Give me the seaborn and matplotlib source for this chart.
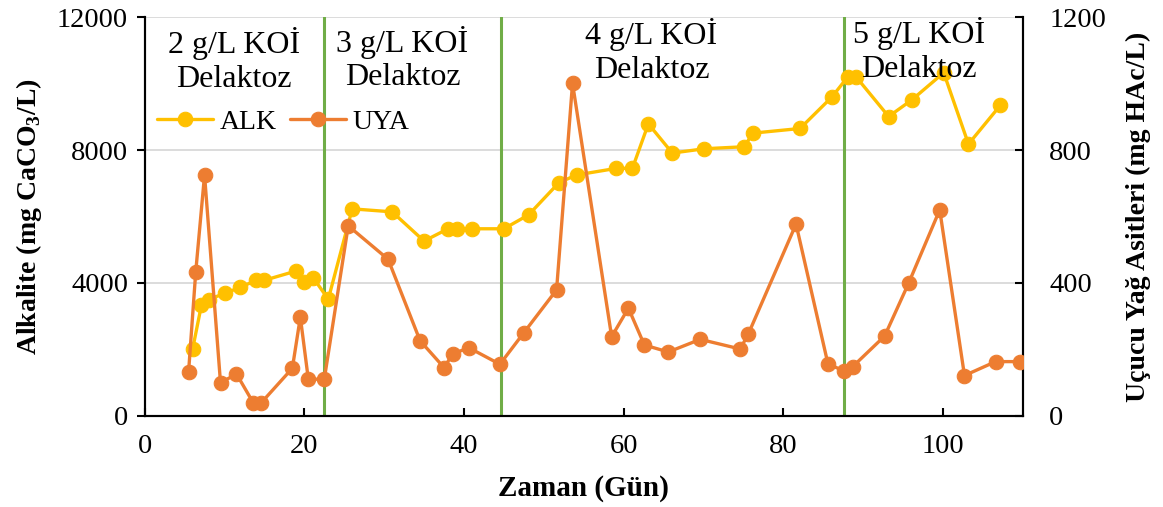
import matplotlib
matplotlib.use("Agg")
import matplotlib.pyplot as plt
import seaborn as sns
import pandas as pd

sns.set_theme(style="white")
plt.rcParams['font.family'] = ['Liberation Serif', 'DejaVu Serif']
plt.rcParams['mathtext.fontset'] = 'custom'
plt.rcParams['mathtext.rm'] = 'Liberation Serif'
plt.rcParams['mathtext.bf'] = 'Liberation Serif:bold'
for k in ['text.color', 'axes.labelcolor', 'xtick.color', 'ytick.color']:
    plt.rcParams[k] = 'black'

# ALK data (day, mg CaCO3/L)
alk_day = [6.0, 7.1, 8.0, 10.1, 12.0, 14.0, 15.0, 19.0, 20.0, 21.1, 23.0, 26.0, 31.0, 35.0,
           38.0, 39.1, 41.0, 45.0, 48.1, 51.9, 54.1, 59.1, 61.1, 63.1, 66.1, 70.1, 75.1, 76.2,
           82.1, 86.1, 88.1, 89.1, 93.2, 96.1, 100.1, 103.2, 107.2]
alk_val = [2000, 3320, 3500, 3690, 3870, 4080, 4080, 4360, 4040, 4160, 3510, 6230, 6140, 5260,
           5630, 5630, 5630, 5630, 6050, 7020, 7250, 7450, 7450, 8790, 7910, 8040, 8100, 8510,
           8650, 9600, 10210, 10210, 9010, 9510, 10330, 8180, 9350]

# UYA data (day, mg HAc/L)
uya_day = [5.5, 6.4, 7.5, 9.5, 11.5, 13.6, 14.6, 18.5, 19.5, 20.5, 22.5, 25.5, 30.5, 34.5,
           37.5, 38.6, 40.6, 44.5, 47.5, 51.6, 53.6, 58.5, 60.6, 62.6, 65.6, 69.6, 74.6, 75.6,
           81.6, 85.6, 87.6, 88.7, 92.7, 95.7, 99.6, 102.7, 106.6, 109.6]
uya_val = [132, 434, 725, 99, 126, 39, 39, 143, 297, 110, 110, 572, 471, 226,
           145, 186, 205, 155, 250, 379, 1001, 238, 324, 213, 192, 230, 201, 245,
           577, 156, 135, 148, 240, 399, 620, 121, 163, 163]

phase_bounds = [22.5, 44.6, 87.6]
phase_labels = ["2 g/L KOİ\nDelaktoz", "3 g/L KOİ\nDelaktoz", "4 g/L KOİ\nDelaktoz", "5 g/L KOİ\nDelaktoz"]
phase_label_x = [11.2, 32.3, 63.5, 97.0]
phase_label_y = [11700, 11750, 11980, 12000]

xticks = [0, 20, 40, 60, 80, 100]
yticks_left = [0, 4000, 8000, 12000]
yticks_right = [0, 400, 800, 1200]

alk_df = pd.DataFrame({"day": alk_day, "val": alk_val})
uya_df = pd.DataFrame({"day": uya_day, "val": uya_val})

ALK_C = "#FFC000"
UYA_C = "#ED7D31"
GREEN = "#70AD47"

fig = plt.figure(figsize=(11.63, 5.07), dpi=100)
ax = fig.add_axes([0.1244, 0.180, 0.755, 0.786])
ax2 = ax.twinx()

sns.lineplot(data=alk_df, x="day", y="val", ax=ax, color=ALK_C, marker="o", markersize=10.5,
             markeredgecolor=ALK_C, linewidth=2.4, label="ALK", legend=False, zorder=3)
sns.lineplot(data=uya_df, x="day", y="val", ax=ax2, color=UYA_C, marker="o", markersize=10.5,
             markeredgecolor=UYA_C, linewidth=2.4, label="UYA", legend=False, zorder=3)

for b in phase_bounds:
    ax.axvline(b, color=GREEN, linewidth=2.2, zorder=2)

for lx, ly, lt in zip(phase_label_x, phase_label_y, phase_labels):
    ax.text(lx, ly, lt, ha="center", va="top", fontsize=23, linespacing=1.22, zorder=5)

ax.set_xlim(0, 110)
ax.set_ylim(0, 12000)
ax2.set_ylim(0, 1200)
ax.set_xticks(xticks)
ax.set_yticks(yticks_left)
ax2.set_yticks(yticks_right)

ax.yaxis.grid(True, color="#d9d9d9", linewidth=1.3)
ax.set_axisbelow(True)

for a in (ax, ax2):
    for s in a.spines.values():
        s.set_color("black")
        s.set_linewidth(1.5)
    a.spines["top"].set_visible(False)

ax.tick_params(axis="y", direction="out", length=6, width=1.5, labelsize=20.5, left=True, pad=6)
ax.tick_params(axis="x", direction="in", length=6, width=1.5, labelsize=20.5, bottom=True, pad=13)
ax2.tick_params(axis="y", direction="in", length=6, width=1.5, labelsize=20.5, right=True, pad=19)

ax.set_xlabel("Zaman (Gün)", fontsize=21, fontweight="bold", labelpad=12)
ax.set_ylabel(r"Alkalite (mg CaCO$_\mathbf{3}$/L)", fontsize=20, fontweight="bold", labelpad=9)
ax2.set_ylabel("Uçucu Yağ Asitleri (mg HAc/L)", fontsize=20, fontweight="bold", labelpad=14)

h1, l1 = ax.get_legend_handles_labels()
h2, l2 = ax2.get_legend_handles_labels()
leg = ax2.legend(h1 + h2, l1 + l2, loc="upper left", bbox_to_anchor=(-0.005, 0.81), ncol=2,
                 frameon=False, fontsize=20, handlelength=2.0, columnspacing=0.5, handletextpad=0.25,
                 borderaxespad=0.2)

fig.savefig("out.png", dpi=100)
